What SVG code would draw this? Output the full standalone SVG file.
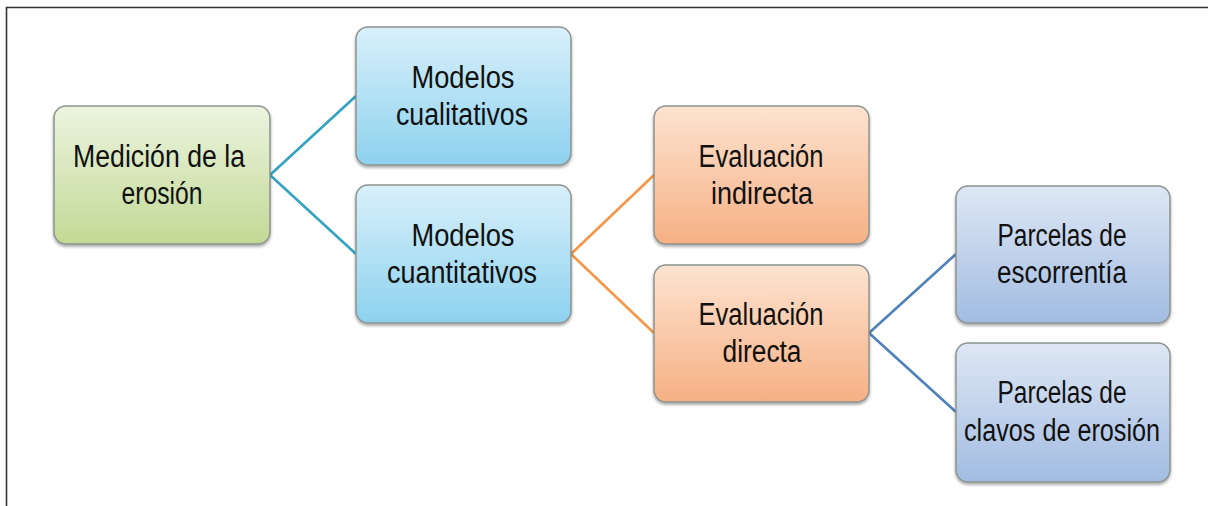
<svg xmlns="http://www.w3.org/2000/svg" width="1208" height="506" viewBox="0 0 1208 506">
<defs>
<linearGradient id="gGreen" x1="0" y1="0" x2="0" y2="1"><stop offset="0" stop-color="#ecf4df"/><stop offset="1" stop-color="#c2d995"/></linearGradient>
<linearGradient id="gCyan" x1="0" y1="0" x2="0" y2="1"><stop offset="0" stop-color="#d9f0fb"/><stop offset="1" stop-color="#8dd2ee"/></linearGradient>
<linearGradient id="gOrange" x1="0" y1="0" x2="0" y2="1"><stop offset="0" stop-color="#fde3d0"/><stop offset="1" stop-color="#f6b084"/></linearGradient>
<linearGradient id="gBlue" x1="0" y1="0" x2="0" y2="1"><stop offset="0" stop-color="#dee7f4"/><stop offset="1" stop-color="#a2bce2"/></linearGradient>
<filter id="sh" x="-10%" y="-10%" width="120%" height="125%"><feDropShadow dx="0" dy="2" stdDeviation="1.6" flood-color="#000" flood-opacity="0.35"/></filter>
</defs>
<style>
.box{stroke:#8c9490;stroke-width:1.5;filter:url(#sh)}
.t{font-family:"Liberation Sans","Open Sans",sans-serif;font-size:31px;fill:#111;text-anchor:middle}
.c{fill:none;stroke-width:2.6}
</style>
<rect width="1208" height="506" fill="#fff"/>
<path d="M6.5 506 V7.5 H1208" fill="none" stroke="#333" stroke-width="1.6"/>
<g id="connectors">
<path class="c" stroke="#33a3c2" d="M270 175 L356 96 M270 175 L356 254"/>
<path class="c" stroke="#f79646" d="M571 254 L654 175 M571 254 L654 333"/>
<path class="c" stroke="#4f81bd" d="M869 333 L956 254 M869 333 L956 412"/>
</g>
<g id="n-medicion">
<rect class="box" x="54" y="106" width="216" height="138" rx="12" fill="url(#gGreen)"/>
<text class="t" x="159" y="167" textLength="172" lengthAdjust="spacingAndGlyphs">Medición de la</text>
<text class="t" x="162" y="204" textLength="81" lengthAdjust="spacingAndGlyphs">erosión</text>
</g>
<g id="n-cualitativos">
<rect class="box" x="356" y="27" width="215" height="138" rx="12" fill="url(#gCyan)"/>
<text class="t" x="463" y="88" textLength="103" lengthAdjust="spacingAndGlyphs">Modelos</text>
<text class="t" x="462" y="125" textLength="132" lengthAdjust="spacingAndGlyphs">cualitativos</text>
</g>
<g id="n-cuantitativos">
<rect class="box" x="356" y="185" width="215" height="138" rx="12" fill="url(#gCyan)"/>
<text class="t" x="463" y="246" textLength="103" lengthAdjust="spacingAndGlyphs">Modelos</text>
<text class="t" x="462" y="283" textLength="150" lengthAdjust="spacingAndGlyphs">cuantitativos</text>
</g>
<g id="n-indirecta">
<rect class="box" x="654" y="106" width="215" height="138" rx="12" fill="url(#gOrange)"/>
<text class="t" x="761" y="167" textLength="125" lengthAdjust="spacingAndGlyphs">Evaluación</text>
<text class="t" x="762" y="204" textLength="102" lengthAdjust="spacingAndGlyphs">indirecta</text>
</g>
<g id="n-directa">
<rect class="box" x="654" y="265" width="215" height="137" rx="12" fill="url(#gOrange)"/>
<text class="t" x="761" y="325" textLength="125" lengthAdjust="spacingAndGlyphs">Evaluación</text>
<text class="t" x="762" y="362" textLength="79" lengthAdjust="spacingAndGlyphs">directa</text>
</g>
<g id="n-escorrentia">
<rect class="box" x="956" y="186" width="214" height="137" rx="12" fill="url(#gBlue)"/>
<text class="t" x="1062" y="246" textLength="129" lengthAdjust="spacingAndGlyphs">Parcelas de</text>
<text class="t" x="1062" y="283" textLength="130" lengthAdjust="spacingAndGlyphs">escorrentía</text>
</g>
<g id="n-clavos">
<rect class="box" x="956" y="343" width="214" height="139" rx="12" fill="url(#gBlue)"/>
<text class="t" x="1062" y="403" textLength="129" lengthAdjust="spacingAndGlyphs">Parcelas de</text>
<text class="t" x="1062" y="441" textLength="196" lengthAdjust="spacingAndGlyphs">clavos de erosión</text>
</g>
</svg>
